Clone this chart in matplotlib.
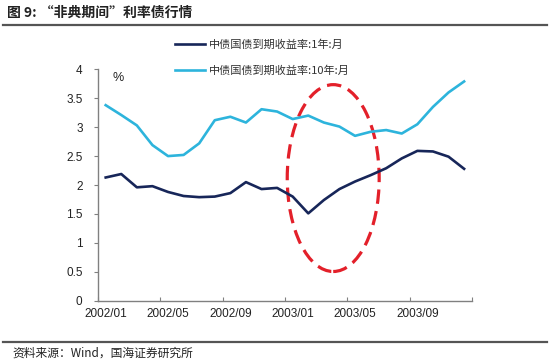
import matplotlib
matplotlib.use("Agg")
import matplotlib.pyplot as plt
from matplotlib.patches import Ellipse
from matplotlib.lines import Line2D

plt.rcParams['font.family'] = ['Liberation Sans', 'Noto Sans CJK SC', 'DejaVu Sans']

months = ["2002/01", "2002/02", "2002/03", "2002/04", "2002/05", "2002/06",
          "2002/07", "2002/08", "2002/09", "2002/10", "2002/11", "2002/12",
          "2003/01", "2003/02", "2003/03", "2003/04", "2003/05", "2003/06",
          "2003/07", "2003/08", "2003/09", "2003/10", "2003/11", "2003/12"]
yield_1y = [2.13, 2.19, 1.96, 1.98, 1.88, 1.81, 1.79, 1.80, 1.86, 2.05, 1.93, 1.95,
            1.80, 1.51, 1.74, 1.93, 2.06, 2.17, 2.29, 2.46, 2.59, 2.58, 2.49, 2.28]
yield_10y = [3.38, 3.21, 3.03, 2.69, 2.50, 2.52, 2.72, 3.12, 3.18, 3.08, 3.31, 3.27,
             3.14, 3.20, 3.08, 3.01, 2.85, 2.92, 2.95, 2.89, 3.05, 3.35, 3.60, 3.79]
label_1y = "中债国债到期收益率:1年:月"
label_10y = "中债国债到期收益率:10年:月"
yticks = [0, 0.5, 1, 1.5, 2, 2.5, 3, 3.5, 4]
ytick_labels = ["0", "0.5", "1", "1.5", "2", "2.5", "3", "3.5", "4"]

fig = plt.figure(figsize=(5.5, 3.61), dpi=100)
ax = fig.add_axes([0.178, 0.167, 0.680, 0.641])

x = list(range(len(months)))
ax.plot(x, yield_1y, color="#172659", lw=1.9, label=label_1y, solid_joinstyle='round')
ax.plot(x, yield_10y, color="#2db4dc", lw=1.9, label=label_10y, solid_joinstyle='round')

ax.set_xlim(-0.5, len(months) - 0.5)
ax.set_ylim(0, 4)

for s in ["top", "right"]:
    ax.spines[s].set_visible(False)
for s in ["left", "bottom"]:
    ax.spines[s].set_color("#808080")
    ax.spines[s].set_linewidth(1.0)

ax.set_yticks(yticks)
ax.set_yticklabels(ytick_labels, fontsize=8.5, color="#222222")
ax.tick_params(axis='y', direction='out', length=3, color="#808080", pad=8)

# major ticks at category boundaries, labels at category centres
bounds = [i - 0.5 for i in range(0, len(months) + 1, 4)]
ax.set_xticks(bounds)
ax.set_xticklabels([])
ax.tick_params(axis='x', which='major', direction='in', length=3, color="#808080")
centers = list(range(0, len(months), 4))
ax.set_xticks(centers, minor=True)
ax.set_xticklabels([months[i] for i in centers], minor=True, fontsize=8.5, color="#222222")
ax.tick_params(axis='x', which='minor', length=0, pad=5)

ax.text(0.79, 3.85, "%", fontsize=9, color="#222222", ha='center', va='center')

ell = Ellipse((14.6, 2.12), width=5.9, height=3.23, fill=False,
              edgecolor="#e3202a", lw=2.3, linestyle=(0, (4.5, 2.3)))
ax.add_patch(ell)

leg = ax.legend(loc='upper left', bbox_to_anchor=(175 / 550, 1 - 39.5 / 361),
                bbox_transform=fig.transFigure, frameon=False,
                prop={'family': ['Noto Sans CJK SC'], 'size': 8},
                handlelength=2.7, handletextpad=0.4, labelspacing=1.35,
                borderpad=0, borderaxespad=0)
for t in leg.get_texts():
    t.set_color("#333333")

# title and rules
fig.text(0.012, 0.965, "图 9: “非典期间”利率债行情", fontsize=10, fontweight='bold',
         family=['Noto Sans CJK SC'], color="#222222", va='center', ha='left')
fig.add_artist(Line2D([0.005, 0.995], [0.93, 0.93], color="#555555", lw=1.6,
                      transform=fig.transFigure))
fig.add_artist(Line2D([0.005, 0.995], [0.052, 0.052], color="#555555", lw=1.6,
                      transform=fig.transFigure))
fig.text(0.022, 0.022, "资料来源：Wind，国海证券研究所", fontsize=8.5,
         family=['Noto Sans CJK SC'], color="#222222", va='center', ha='left')

fig.savefig("out.png", dpi=100)
